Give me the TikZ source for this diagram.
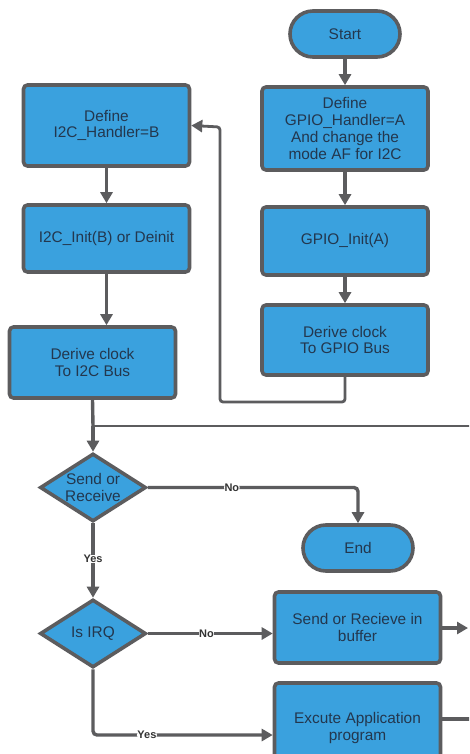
\documentclass[tikz,border=0pt]{standalone}
\usepackage{fontspec}
\setmainfont{Liberation Sans}
\usetikzlibrary{shapes.geometric,arrows.meta}
\definecolor{boxblue}{RGB}{58,161,222}
\definecolor{edgegray}{RGB}{92,92,94}
\definecolor{txt}{RGB}{35,55,78}
\tikzset{
  base/.style={draw=edgegray,line width=3.6pt,fill=boxblue,text=txt,align=center,
    font=\fontsize{15.4}{16.8}\selectfont,inner sep=2pt},
  procbox/.style={base,rectangle,rounded corners=4pt,minimum width=166pt},
  term/.style={base,rectangle,rounded corners=23pt,minimum width=110pt,minimum height=46pt},
  decide/.style={base,diamond,aspect=1.55,minimum width=106pt,minimum height=68pt,inner sep=0pt},
  conn/.style={draw=edgegray,line width=3.4pt,line cap=butt},
  thinconn/.style={draw=edgegray,line width=2.8pt},
  arr/.style={-{Triangle[length=11pt,width=12pt]}},
  lab/.style={fill=white,inner sep=0.5pt,font=\bfseries\fontsize{11}{12}\selectfont,text=black!80}
}
\begin{document}
\begin{tikzpicture}[x=1pt,y=-1pt]
\useasboundingbox (0,0) rectangle (469,754);
\clip (0,0) rectangle (469,754);
\fill[white] (0,0) rectangle (469,754);
% right column
\node[term] (start) at (345,34) {Start};
\node[procbox,minimum height=83pt] (gdef) at (345,128.5) {Define\\GPIO\_Handler=A\\And change the\\mode AF for I2C};
\node[procbox,minimum height=68pt] (ginit) at (345,241) {GPIO\_Init(A)};
\node[procbox,minimum height=70pt] (gclk) at (345,340) {Derive clock\\To GPIO Bus};
% left column
\node[procbox,minimum height=81pt] (idef) at (106.5,125.5) {Define\\I2C\_Handler=B};
\node[procbox,minimum height=67pt] (iinit) at (106.5,238.5) {I2C\_Init(B) or Deinit};
\node[procbox,minimum height=71pt] (iclk) at (92.5,362.5) {Derive clock\\To I2C Bus};
% decisions
\node[decide] (sr) at (93,487.5) {Send or\\Receive};
\node[term] (end) at (358,548) {End};
\node[decide] (irq) at (93,633.5) {Is IRQ};
\node[procbox,minimum height=71pt] (buf) at (357.5,627.5) {Send or Recieve in\\buffer};
\node[procbox,minimum height=90pt] (app) at (357.5,728) {Excute Application\\program};
% helper coordinates
\coordinate (loopA) at (345,402);
\coordinate (loopB) at (220,402);
\coordinate (loopC) at (220,127);
\coordinate (merge) at (93,426);
\coordinate (rtop) at (470,426);
\coordinate (rbuf) at (468,628);
\coordinate (rapp) at (470,719);
\coordinate (nocorner) at (358,487.5);
\coordinate (yescorner) at (93,735);
% connectors
\draw[conn,arr] (start) -- (gdef);
\draw[conn,arr] (gdef) -- (ginit);
\draw[conn,arr] (ginit) -- (gclk);
\draw[conn,arr] (idef) -- (iinit);
\draw[conn,arr] (iinit.south) -- (iinit.south |- iclk.north);
\draw[thinconn,arr,rounded corners=3pt] (gclk.south) -- (loopA) -- (loopB) -- (loopC) -- (idef.east);
\draw[conn] (iclk.south) -- (merge);
\draw[thinconn] (merge) -- (rtop);
\draw[conn,arr] (merge) -- (sr.north);
\draw[conn,arr,rounded corners=4pt] (sr.east) -- node[lab,pos=0.4]{No} (nocorner) -- (end.north);
\draw[conn,arr] (sr.south) -- node[lab,pos=0.48]{Yes} (irq.north);
\draw[conn,arr] (irq.east) -- node[lab,pos=0.47]{No} (irq.east -| buf.west);
\draw[conn,arr,rounded corners=4pt] (irq.south) -- (yescorner) -- node[lab,pos=0.3]{Yes} (yescorner -| app.west);
\draw[conn,arr] (buf.east |- rbuf) -- (rbuf);
\draw[conn] (app.east |- rapp) -- (rapp);
\end{tikzpicture}
\end{document}
